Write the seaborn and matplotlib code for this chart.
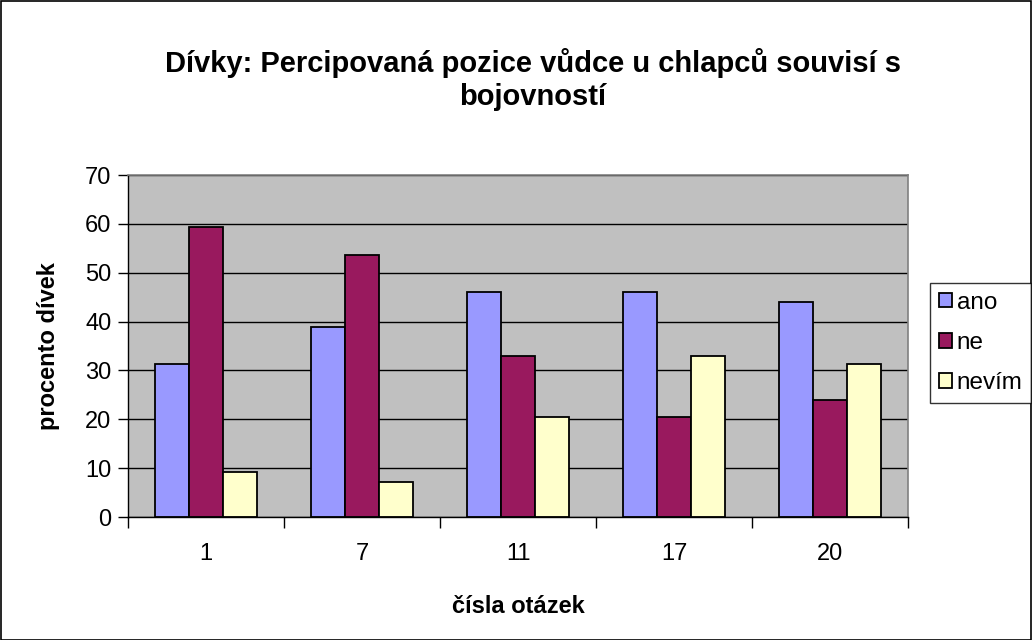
import matplotlib
matplotlib.use("Agg")
import matplotlib.pyplot as plt
import seaborn as sns
import pandas as pd
import numpy as np

categories = ["1", "7", "11", "17", "20"]
ano = [31.4, 38.8, 46.1, 46.1, 44.1]
ne = [59.3, 53.6, 33.0, 20.4, 24.0]
nevim = [9.2, 7.2, 20.4, 33.0, 31.4]
series = ["ano", "ne", "nevím"]
colors = ["#9999FF", "#99195E", "#FFFFCC"]

df = pd.DataFrame({
    "otazka": categories * 3,
    "hodnota": ano + ne + nevim,
    "serie": [s for s in series for _ in categories],
})

sns.set_theme(style="white")
plt.rcParams["font.family"] = ["Liberation Sans", "DejaVu Sans"]
plt.rcParams["text.color"] = "black"
plt.rcParams["axes.labelcolor"] = "black"
plt.rcParams["xtick.color"] = "black"
plt.rcParams["ytick.color"] = "black"

fig = plt.figure(figsize=(10.32, 6.4), dpi=100)
fig.patch.set_facecolor("white")
ax = fig.add_axes([128 / 1032, 1 - 517 / 640, 780 / 1032, 342 / 640])
ax.set_facecolor("#C0C0C0")

sns.barplot(data=df, x="otazka", y="hodnota", hue="serie", order=categories,
            hue_order=series, palette=colors, saturation=1, width=0.654,
            edgecolor="black", linewidth=1.3, ax=ax, legend=True)

ax.set_ylim(0, 70)
ax.set_xlim(-0.5, 4.5)
ax.set_yticks(np.arange(0, 71, 10))
ax.yaxis.grid(True, color="black", linewidth=1.0)
ax.set_axisbelow(True)
ax.tick_params(axis="y", labelsize=17, length=7, width=1, left=True, direction="out", pad=5)
ax.tick_params(axis="x", which="major", labelsize=17, length=0, pad=19)
ax.set_xticks(np.arange(-0.5, 5.0, 1.0), minor=True)
ax.tick_params(axis="x", which="minor", length=8, width=1, bottom=True, direction="out")

for side in ["top", "right"]:
    ax.spines[side].set_color("#808080")
    ax.spines[side].set_linewidth(1.2)
for side in ["left", "bottom"]:
    ax.spines[side].set_color("black")
    ax.spines[side].set_linewidth(1.0)

ax.set_xlabel("čísla otázek", fontsize=17, fontweight="bold", labelpad=21)
ax.set_ylabel("procento dívek", fontsize=17, fontweight="bold", labelpad=18)

fig.text(533 / 1032, 1 - 79.5 / 640,
         "Dívky: Percipovaná pozice vůdce u chlapců souvisí s\nbojovností",
         fontsize=21, fontweight="bold", ha="center", va="center",
         linespacing=1.2)

handles, labels = ax.get_legend_handles_labels()
ax.legend_.remove()
leg = fig.legend(handles, labels, loc="center left",
                 bbox_to_anchor=(930 / 1032, 1 - 343 / 640),
                 frameon=True, fancybox=False, edgecolor="black",
                 fontsize=17.5, handlelength=0.55, handleheight=0.55,
                 handletextpad=0.2, labelspacing=0.75, borderpad=0.35,
                 borderaxespad=0)
leg.get_frame().set_linewidth(1.0)

fig.add_artist(plt.Rectangle((0.5 / 1032, 0.5 / 640), 1 - 1.5 / 1032, 1 - 1.5 / 640,
                             transform=fig.transFigure, fill=False,
                             edgecolor="black", linewidth=1.2))

fig.savefig("out.png", dpi=100)
